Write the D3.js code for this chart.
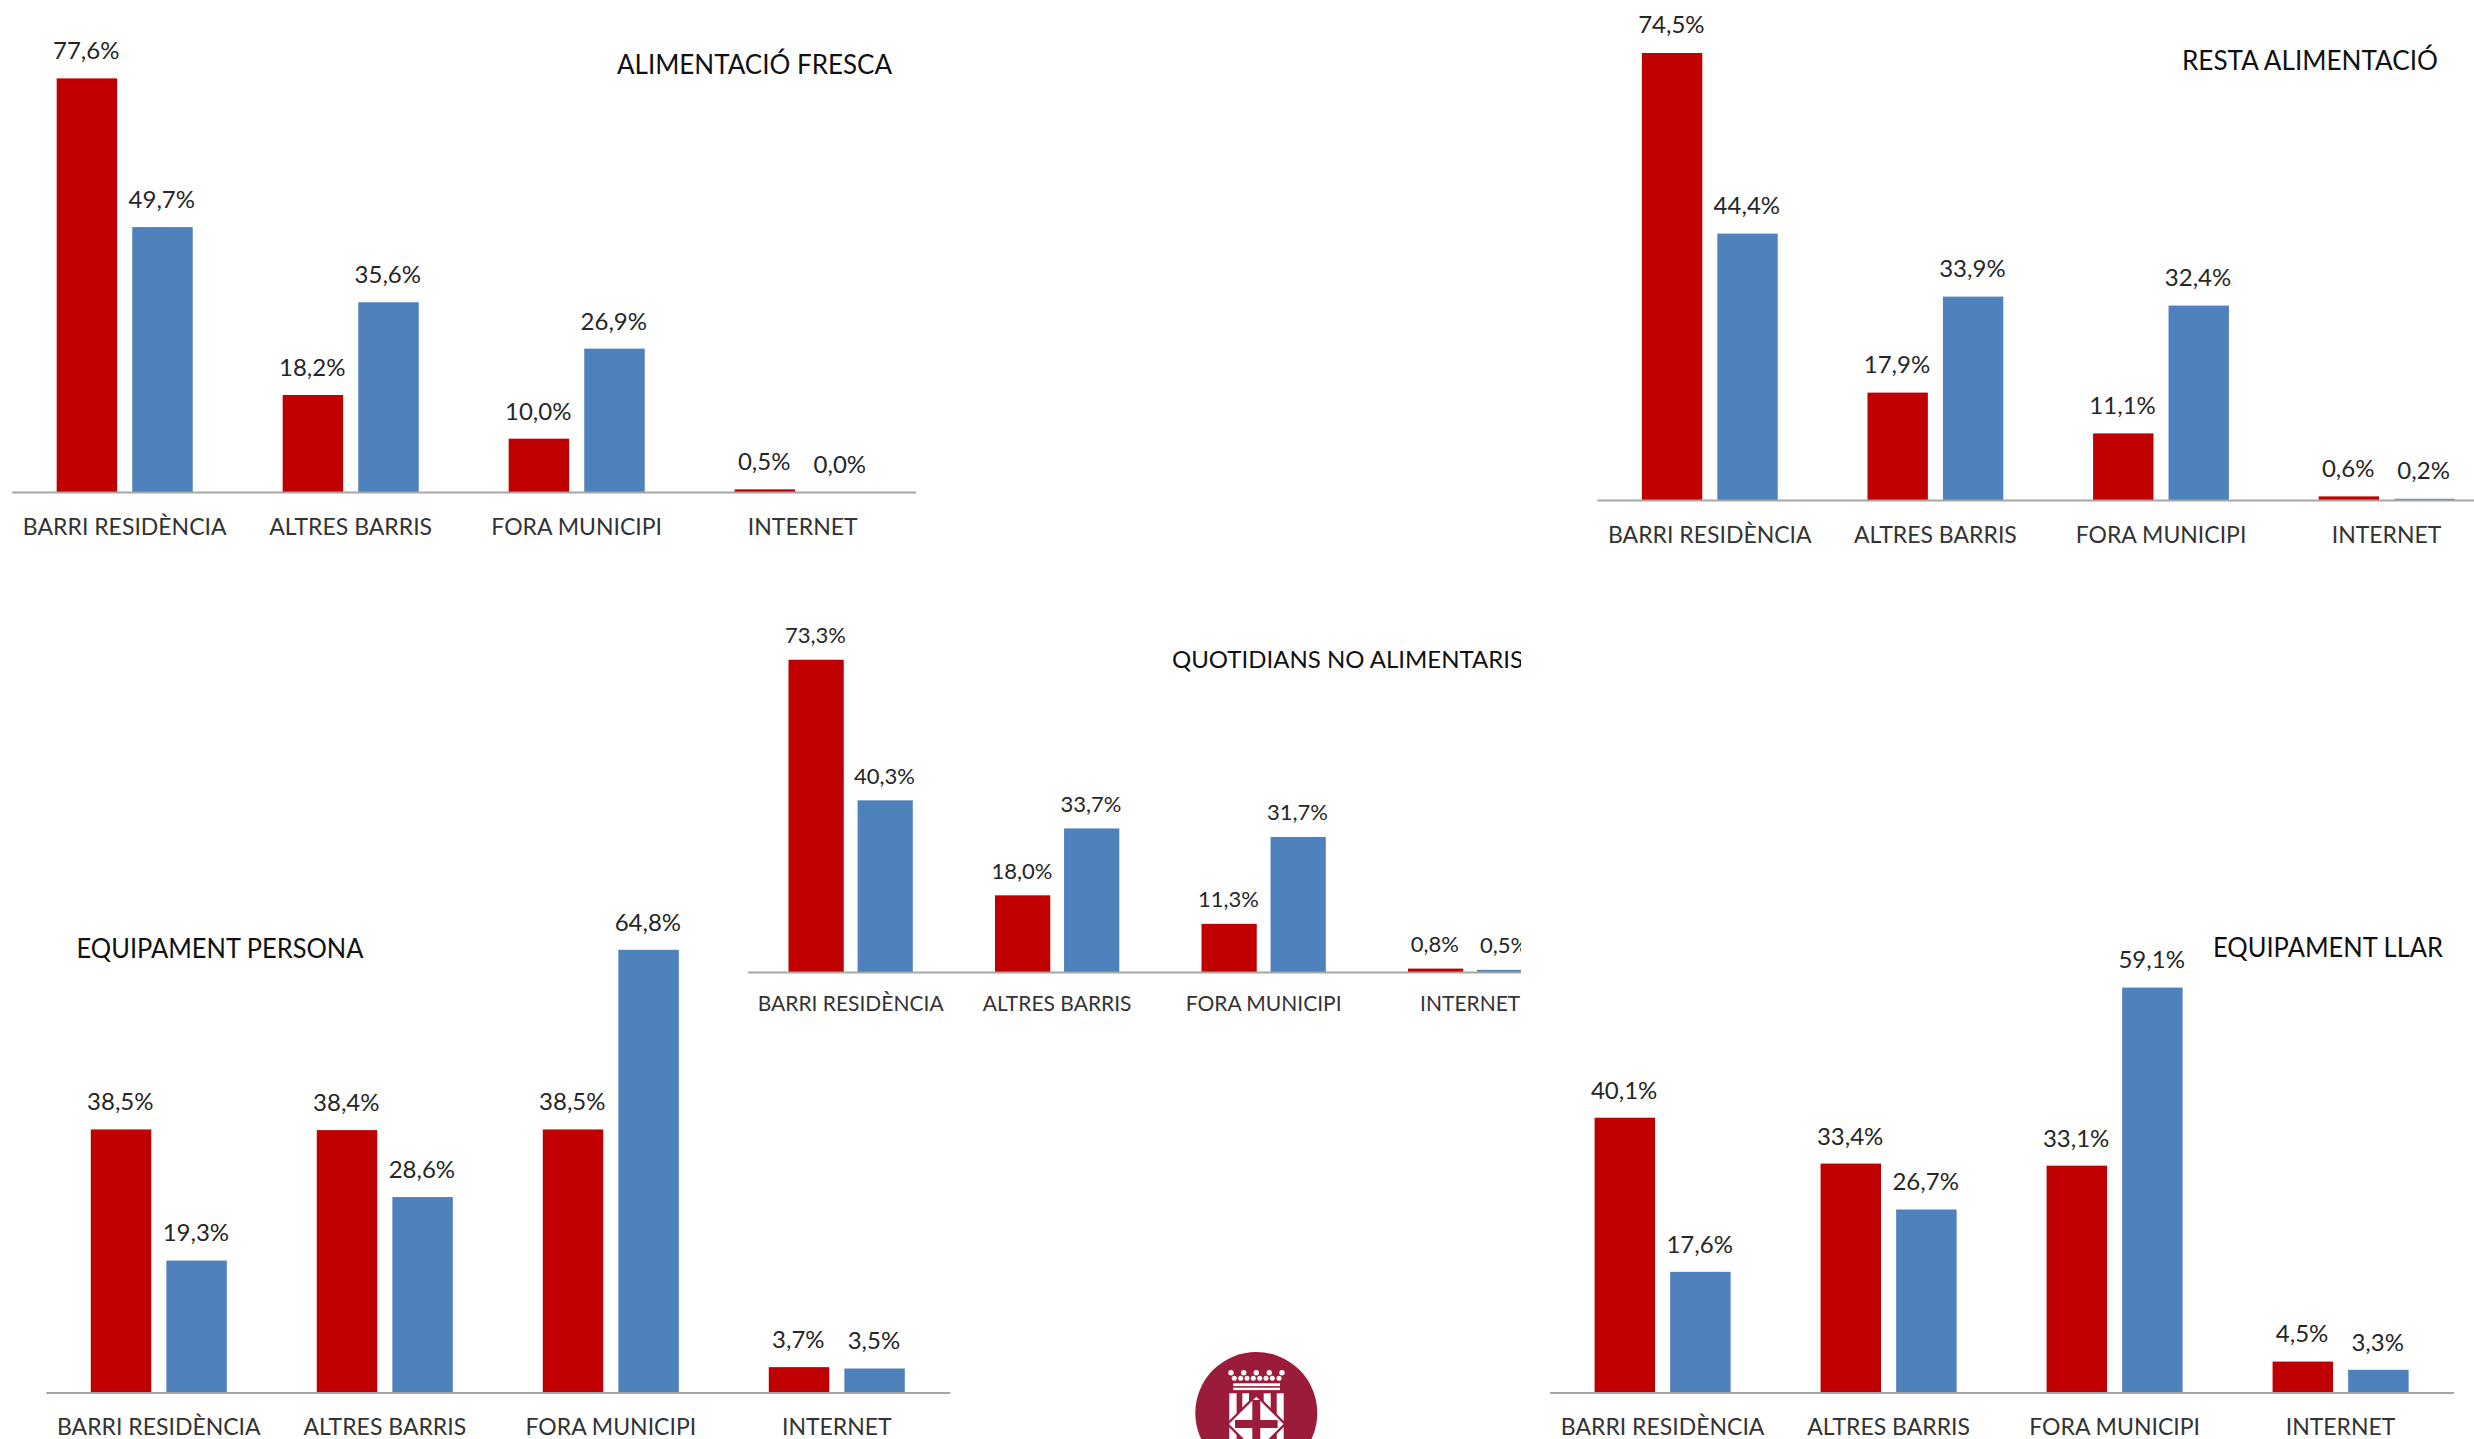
<!DOCTYPE html>
<html>
<head>
<meta charset="utf-8">
<script src="https://cdnjs.cloudflare.com/ajax/libs/d3/7.8.5/d3.min.js"></script>
<style>
html,body{margin:0;padding:0;background:#fff;overflow:hidden}
svg{display:block}
text{font-family:Lato,"Open Sans",sans-serif}
</style>
</head>
<body>
<svg id="c" width="2474" height="1439"></svg>
<script>
const categories = ["BARRI RESIDÈNCIA","ALTRES BARRIS","FORA MUNICIPI","INTERNET"];
const seriesNames = ["A","B"];
const alimentacioFrescaA = [77.6,18.2,10.0,0.5];
const alimentacioFrescaB = [49.7,35.6,26.9,0.0];
const restaAlimentacioA = [74.5,17.9,11.1,0.6];
const restaAlimentacioB = [44.4,33.9,32.4,0.2];
const quotidiansA = [73.3,18.0,11.3,0.8];
const quotidiansB = [40.3,33.7,31.7,0.5];
const equipamentPersonaA = [38.5,38.4,38.5,3.7];
const equipamentPersonaB = [19.3,28.6,64.8,3.5];
const equipamentLlarA = [40.1,33.4,33.1,4.5];
const equipamentLlarB = [17.6,26.7,59.1,3.3];
const colors = ["#C00000","#4F81BD"];

const panels = [
 {title:"ALIMENTACIÓ FRESCA",a:alimentacioFrescaA,b:alimentacioFrescaB,x0:11.7,step:226,base:492,k:5.33,fs:24,lo:27.5,co:35,cw:200,tx:[617,892],ty:64.5},
 {title:"RESTA ALIMENTACIÓ",a:restaAlimentacioA,b:restaAlimentacioB,x0:1597,step:225.6,base:500,k:6.0,fs:24,lo:28,co:35,cw:200,tx:[2182,2438],ty:60.5},
 {title:"QUOTIDIANS NO ALIMENTARIS",a:quotidiansA,b:quotidiansB,x0:747.4,step:206.5,base:972,k:4.26,fs:22,lo:24.5,co:31.5,cw:184,tx:[1172,1523],ty:660,clip:1521},
 {title:"EQUIPAMENT PERSONA",a:equipamentPersonaA,b:equipamentPersonaB,x0:45.8,step:226,base:1392.4,k:6.83,fs:24,lo:27.5,co:35,cw:200,tx:[76.5,363.5],ty:948.5},
 {title:"EQUIPAMENT LLAR",a:equipamentLlarA,b:equipamentLlarB,x0:1549.6,step:226,base:1392.4,k:6.85,fs:24,lo:27.5,co:35,cw:200,tx:[2213,2443],ty:947.5}
];

const svg = d3.select("#c");
const fmt = v => v.toFixed(1).replace(".",",")+"%";

panels.forEach((p,i)=>{
  const g = svg.append("g");
  if(p.clip){
    svg.append("clipPath").attr("id","clip"+i).append("rect")
      .attr("x",0).attr("y",0).attr("width",p.clip).attr("height",1439);
    g.attr("clip-path",`url(#clip${i})`);
  }
  const x = d3.scaleBand().domain(categories)
    .range([p.x0,p.x0+p.step*categories.length])
    .paddingInner(0.398).paddingOuter(0.199);
  const xs = d3.scaleBand().domain(seriesNames).range([0,x.bandwidth()]).paddingInner(0.2);
  const y = d3.scaleLinear().domain([0,100]).range([p.base,p.base-100*p.k]);

  [p.a,p.b].forEach((vals,s)=>{
    const name = seriesNames[s];
    g.selectAll(null).data(categories).join("rect")
      .attr("x",c=>x(c)+xs(name))
      .attr("y",(c,j)=>y(vals[j]))
      .attr("width",xs.bandwidth())
      .attr("height",(c,j)=>y(0)-y(vals[j]))
      .attr("fill",colors[s]);
    g.selectAll(null).data(categories).join("text")
      .attr("x",c=>x(c)+xs(name)+xs.bandwidth()/2-0.7)
      .attr("y",(c,j)=>y(vals[j])-p.lo)
      .attr("dy","0.35em")
      .attr("text-anchor","middle")
      .attr("font-size",p.fs)
      .attr("fill","#262626")
      .text((c,j)=>fmt(vals[j]));
  });

  const axis = g.append("g").attr("transform",`translate(0,${p.base})`)
    .call(d3.axisBottom(x).tickSize(0).tickPadding(0));
  axis.select(".domain").attr("stroke","#A6A6A6").attr("stroke-width",2);
  axis.selectAll("text")
    .attr("y",p.co).attr("dy","0.35em")
    .attr("font-size",p.fs-1)
    .attr("fill","#333")
    .style("font-family","Lato");

  g.append("text")
    .attr("x",p.tx[0]).attr("y",p.ty).attr("dy","0.35em")
    .attr("font-size",p.fs+2)
    .attr("fill","#111")
    .attr("textLength",p.tx[1]-p.tx[0])
    .attr("lengthAdjust","spacingAndGlyphs")
    .text(p.title);
});

// Seal at the bottom centre
const logo = svg.append("g");
const wine = "#9B1C3A";
logo.append("circle").attr("cx",1256.3).attr("cy",1413).attr("r",61).attr("fill",wine);
const white="#fff";
[1231,1243.7,1256.3,1269.3,1282].forEach(cx=>logo.append("circle").attr("cx",cx).attr("cy",1372.7).attr("r",2.7).attr("fill",white));
[1234.3,1240.7,1247,1253.3,1259.7,1266,1272.3,1279].forEach(cx=>logo.append("circle").attr("cx",cx).attr("cy",1378.2).attr("r",2.5).attr("fill",white));
logo.append("rect").attr("x",1233.3).attr("y",1383.3).attr("width",46.7).attr("height",2.8).attr("fill",white);
logo.append("rect").attr("x",1233.3).attr("y",1387.7).attr("width",46.7).attr("height",2.4).attr("fill",white);
[[1229.3,7.3],[1242.3,6.7],[1263.7,7],[1276.7,7]].forEach(([sx,w])=>logo.append("rect").attr("x",sx).attr("y",1393.3).attr("width",w).attr("height",50).attr("fill",white));
const dia=(cx,cy,r)=>`M${cx},${cy-r}L${cx+r},${cy}L${cx},${cy+r}L${cx-r},${cy}Z`;
logo.append("path").attr("d",dia(1256.3,1424,30.5)).attr("fill",wine);
logo.append("path").attr("d",dia(1256.3,1424,27.3)).attr("fill",white);
logo.append("rect").attr("x",1252.3).attr("y",1400).attr("width",8).attr("height",48).attr("fill",wine);
logo.append("rect").attr("x",1235).attr("y",1420).attr("width",42.6).attr("height",8).attr("fill",wine);
</script>
</body>
</html>
